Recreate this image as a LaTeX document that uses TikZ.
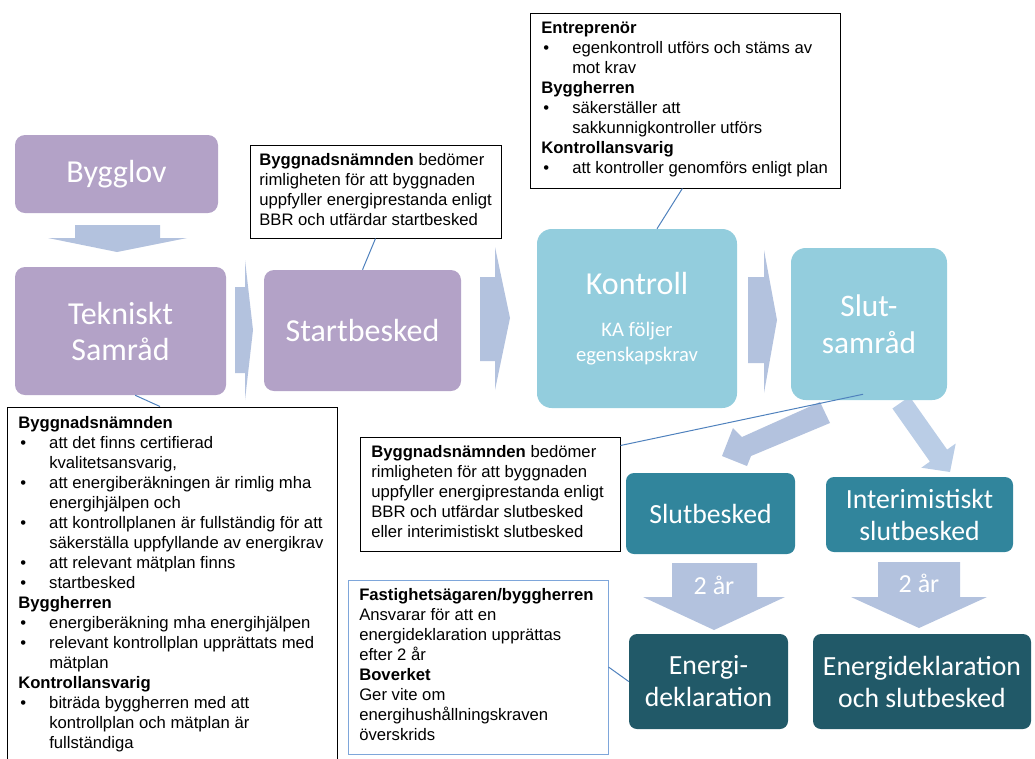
\documentclass[tikz,border=0pt]{standalone}
\usepackage{fontspec}
\setmainfont{Liberation Sans}
\newfontfamily\calfont{Carlito}
\usetikzlibrary{fit}
\definecolor{purp}{HTML}{B3A2C7}
\definecolor{arr}{HTML}{B3C2DE}
\definecolor{arrL}{HTML}{BACDE6}
\definecolor{myaqua}{HTML}{93CDDD}
\definecolor{myteal}{HTML}{31859C}
\definecolor{mydteal}{HTML}{215968}
\definecolor{conn}{HTML}{4F81BD}
\definecolor{lbord}{HTML}{7EA6DA}
\newcommand{\bl}{\hspace*{1.5pt}\makebox[21.75pt][l]{•}}
\newcommand{\ind}{\hspace*{23.25pt}}
\tikzset{
  sz/.style 2 args={minimum width=#1*0.75pt, minimum height=#2*0.75pt},
  pbox/.style={fill=purp, rounded corners=7.5pt, inner sep=0pt, text=white, align=center, font=\calfont\fontsize{24}{27}\selectfont},
  abox/.style={fill=myaqua, rounded corners=11pt, inner sep=0pt, text=white, align=center},
  tbox/.style={fill=myteal, rounded corners=6pt, inner sep=0pt, text=white, align=center, font=\calfont\fontsize{20.8}{24}\selectfont},
  dbox/.style={fill=mydteal, rounded corners=6pt, inner sep=0pt, text=white, align=center, font=\calfont\fontsize{20.8}{24}\selectfont},
  cbox/.style={draw=black, line width=0.75pt, inner sep=0pt},
  lbox/.style={draw=lbord, line width=0.75pt, inner sep=0pt},
  txt/.style={anchor=base west, inner sep=0pt, font=\fontsize{12.5}{15}\selectfont},
  blk/.style={fill=arr, draw=none},
  blkL/.style={fill=arrL, draw=none},
  cl/.style={draw=conn, line width=0.75pt},
  yr/.style={text=white, inner sep=0pt, font=\calfont\fontsize{19.5}{22}\selectfont}
}
\begin{document}
\begin{tikzpicture}[x=0.75pt, y=-0.75pt]
\useasboundingbox (0,0) rectangle (1035,758);
\clip (0,0) rectangle (1035,758);

% block arrows
\fill[blk] (75,225) -- (160,225) -- (160,238) -- (187,238) -- (117,252) -- (48,238) -- (75,238) -- cycle;
\fill[blk] (235,287) -- (245,287) -- (245,260) -- (253,330) -- (245,400) -- (245,373) -- (235,373) -- cycle;
\fill[blk] (480,277) -- (495,277) -- (495,247) -- (510,318) -- (495,390) -- (495,361) -- (480,361) -- cycle;
\fill[blk] (748,277) -- (764,277) -- (764,250) -- (777,320) -- (764,393) -- (764,363) -- (748,363) -- cycle;
\fill[blk] (820,402) -- (830,423) -- (751,456) -- (747,466) -- (722,456) -- (733,428) -- (742,437) -- cycle;
\fill[blkL] (892.4,408.5) -- (909.6,396.5) -- (947.1,449.6) -- (955.7,443.5) -- (950,472) -- (921.3,467.7) -- (929.9,461.6) -- cycle;
\fill[blk] (672,563) -- (757,563) -- (757,597) -- (785,597) -- (714,630) -- (643,597) -- (672,597) -- cycle;
\fill[blk] (878,562) -- (960,562) -- (960,597) -- (987,597) -- (919,628) -- (851,597) -- (878,597) -- cycle;
\node[yr] (yr1) at (714,585) {2 år};
\node[yr] (yr2) at (919,583) {2 år};

% main boxes
\node[pbox, sz={203}{78}] (bygglov) at (116.5,174) {Bygglov};
\node[pbox, sz={211}{128}] (tekn) at (120.5,331) {Tekniskt\\Samråd};
\node[pbox, sz={197}{121}] (startb) at (362.5,330.5) {Startbesked};
\node[abox, sz={200}{179}, font=\calfont\fontsize{15.5}{18.75}\selectfont] (kontroll) at (637,318.5) {{\fontsize{24}{27}\selectfont Kontroll}\\[12.75pt]KA följer\\egenskapskrav};
\node[abox, sz={156}{152}, font=\calfont\fontsize{23.5}{27.75}\selectfont] (slut) at (869,324) {Slut-\\samråd};
\node[tbox, sz={169}{81}] (slutb) at (710.5,513.5) {Slutbesked};
\node[tbox, sz={187}{75}] (interim) at (919.5,514.5) {Interimistiskt\\slutbesked};
\node[dbox, sz={159}{95}] (energi) at (708.5,681.5) {Energi-\\deklaration};
\node[dbox, sz={218}{95}] (energis) at (922,681.5) {Energideklaration\\och slutbesked};

% callout boxes
\node[cbox, fill=white, fit={(250,145)(501,238)}] (cA) {};
\node[txt] (tA) at (259,165) {\parbox[t]{300pt}{\textbf{Byggnadsnämnden} bedömer\\rimligheten för att byggnaden\\uppfyller energiprestanda enligt\\BBR och utfärdar startbesked}};

\node[cbox, fill=white, fit={(530,13)(840,188)}] (cB) {};
\node[txt] (tB) at (541,33) {\parbox[t]{300pt}{\textbf{Entreprenör}\\
\bl egenkontroll utförs och stäms av\\
\ind mot krav\\
\textbf{Byggherren}\\
\bl säkerställer att\\
\ind sakkunnigkontroller utförs\\
\textbf{Kontrollansvarig}\\
\bl att kontroller genomförs enligt plan}};

\node[cbox, fill=white, fit={(360,437)(620,551)}] (cC) {};
\node[txt] (tC) at (371,457) {\parbox[t]{300pt}{\textbf{Byggnadsnämnden} bedömer\\rimligheten för att byggnaden\\uppfyller energiprestanda enligt\\BBR och utfärdar slutbesked\\eller interimistiskt slutbesked}};

\node[lbox, fill=white, fit={(348,580)(608,754)}] (cD) {};
\node[txt] (tD) at (359,600) {\parbox[t]{300pt}{\textbf{Fastighetsägaren/byggherren}\\Ansvarar för att en\\energideklaration upprättas\\efter 2 år\\\textbf{Boverket}\\Ger vite om\\energihushållningskraven\\överskrids}};

\node[cbox, fill=white, fit={(7,407)(337,775)}] (cE) {};
\node[txt] (tE) at (18,428) {\parbox[t]{320pt}{\textbf{Byggnadsnämnden}\\
\bl att det finns certifierad\\
\ind kvalitetsansvarig,\\
\bl att energiberäkningen är rimlig mha\\
\ind energihjälpen och\\
\bl att kontrollplanen är fullständig för att\\
\ind säkerställa uppfyllande av energikrav\\
\bl att relevant mätplan finns\\
\bl startbesked\\
\textbf{Byggherren}\\
\bl energiberäkning mha energihjälpen\\
\bl relevant kontrollplan upprättats med\\
\ind mätplan\\
\textbf{Kontrollansvarig}\\
\bl biträda byggherren med att\\
\ind kontrollplan och mätplan är\\
\ind fullständiga}};

% connectors
\draw[cl] (cA.south) -- (startb.north);
\draw[cl] ([xshift=-2pt]cB.south) -- ([xshift=15pt]kontroll.north);
\draw[cl] ([xshift=11pt]tekn.south) -- ([xshift=-9pt]cE.north);
\draw[cl] ([xshift=-4.5pt,yshift=4.5pt]slut.south) -- ([yshift=-6.75pt]cC.north east);
\draw[cl] (cD.east) -- (energi.west);
\end{tikzpicture}
\end{document}
